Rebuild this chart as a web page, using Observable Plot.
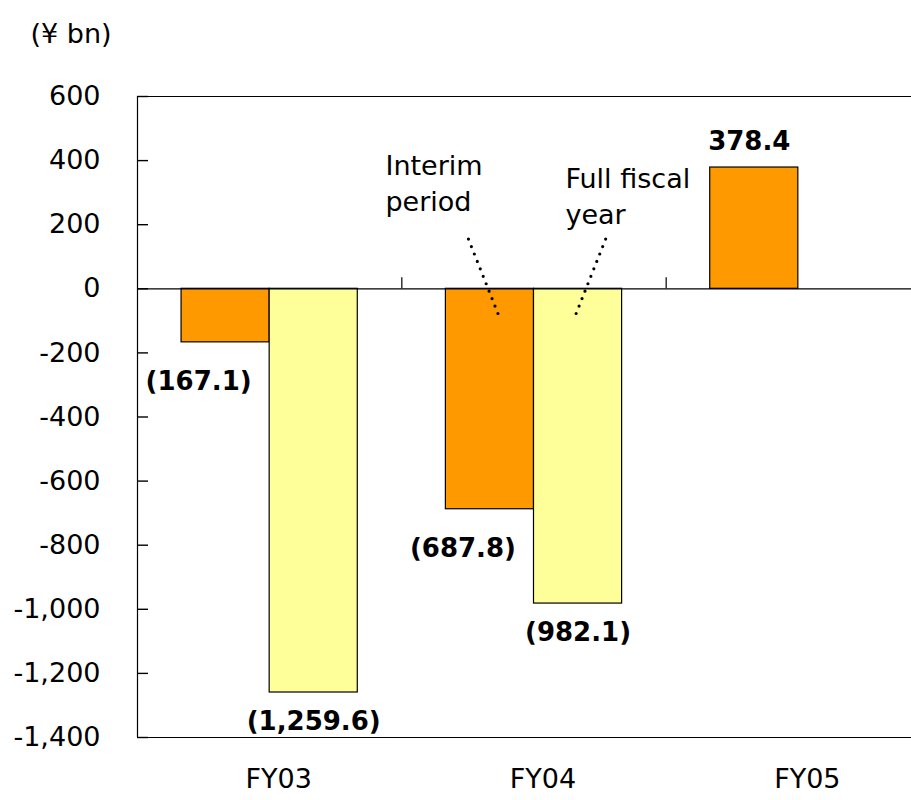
<!DOCTYPE html>
<html>
<head>
<meta charset="utf-8">
<script src="https://cdn.jsdelivr.net/npm/d3@7"></script>
<script src="https://cdn.jsdelivr.net/npm/@observablehq/plot@0.6"></script>
<style>
  body { margin: 0; background: #fff; }
  #chart svg { display: block; }
</style>
</head>
<body>
<div id="chart"></div>
<script>
// ---- data ----
const categories = ["FY03", "FY04", "FY05"];
const seriesNames = ["Interim period", "Full fiscal year"];
const interimValues = [-167.1, -687.8, 378.4];
const fullYearValues = [-1259.6, -982.1, null];
const yTicks = [600, 400, 200, 0, -200, -400, -600, -800, -1000, -1200, -1400];
const unitLabel = "(¥ bn)";
const annotationTexts = ["Interim\nperiod", "Full fiscal\nyear"];

// ---- table ----
const rows = [];
categories.forEach((c, i) => {
  [interimValues[i], fullYearValues[i]].forEach((v, s) => {
    if (v != null) rows.push({category: c, i, s, series: seriesNames[s], value: v});
  });
});
const fmt = d3.format(",.1f");
const valueText = d => d.value < 0 ? `(${fmt(-d.value)})` : fmt(d.value);
const barLeft = d => d.i + 1/6 + d.s/3;
const barRight = d => d.i + 1/2 + d.s/3;
const barMid = d => d.i + 1/3 + d.s/3;

// annotation anchors (in chart units, attached to FY04)
const annotations = [
  {text: annotationTexts[0], x: 0.938, y: 334, lx1: 1.252, ly1: 155, lx2: 1.366, ly2: -82},
  {text: annotationTexts[1], x: 1.619, y: 294, lx1: 1.771, ly1: 155, lx2: 1.657, ly2: -82}
];

const font = "DejaVu Sans, Verdana, sans-serif";
const xRange = [137, 930];
const pxPerUnit = (xRange[1] - xRange[0]) / categories.length;
const innerTick = 11 / pxPerUnit;

const chart = Plot.plot({
  width: 911,
  height: 800,
  marginLeft: 137,
  marginRight: 0,
  marginTop: 96,
  marginBottom: 63,
  style: {fontFamily: font, fontSize: "27px", color: "#000", background: "#fff"},
  x: {domain: [0, categories.length], range: xRange, axis: null},
  y: {
    domain: [-1400, 600],
    ticks: yTicks,
    tickSize: 0,
    tickPadding: 37,
    tickFormat: d => d.toLocaleString("en-US"),
    label: null
  },
  color: {domain: seriesNames, range: ["#FF9900", "#FFFF99"]},
  marks: [
    // bars
    Plot.rectY(rows, {x1: barLeft, x2: barRight, y1: 0, y2: "value", fill: "series", stroke: "#000", strokeWidth: 1.2}),
    // frame lines
    Plot.ruleY([600, -1400], {stroke: "#000", strokeWidth: 1.2}),
    Plot.ruleY([0], {stroke: "#000", strokeWidth: 1.2}),
    Plot.ruleX([0], {stroke: "#000", strokeWidth: 1.2}),
    // inner y ticks
    Plot.ruleY(yTicks, {x1: () => 0, x2: () => innerTick, y: d => d, stroke: "#000", strokeWidth: 1.4}),
    // category separators on zero line
    Plot.ruleX([1, 2], {y1: 0, y2: 0, insetTop: -11, stroke: "#000", strokeWidth: 1.2}),
    // value labels
    Plot.text(rows.filter(d => d.value < 0 && d.s === 0), {x: barMid, y: "value", text: valueText, dy: 39, dx: -27, fontWeight: "bold", fontSize: 26}),
    Plot.text(rows.filter(d => d.value < 0 && d.s === 1), {x: barMid, y: "value", text: valueText, dy: 29, fontWeight: "bold", fontSize: 26}),
    Plot.text(rows.filter(d => d.value >= 0), {x: barMid, y: "value", text: valueText, dy: -26, dx: -5, fontWeight: "bold", fontSize: 26}),
    // category labels
    Plot.text(categories, {x: (d, i) => i + 0.5, frameAnchor: "bottom", dy: 50, dx: 9, text: d => d, fontSize: 27}),
    // annotations
    Plot.text(annotations, {x: "x", y: "y", text: "text", textAnchor: "start", lineHeight: 1.333, fontSize: 27}),
    Plot.link(annotations, {x1: "lx1", y1: "ly1", x2: "lx2", y2: "ly2", stroke: "#000", strokeWidth: 3.2, strokeDasharray: "0 8", strokeLinecap: "round"}),
    // unit label
    Plot.text([unitLabel], {frameAnchor: "top-left", dx: -107, dy: -73, textAnchor: "start", fontSize: 27})
  ]
});
document.getElementById("chart").appendChild(chart);
</script>
</body>
</html>
